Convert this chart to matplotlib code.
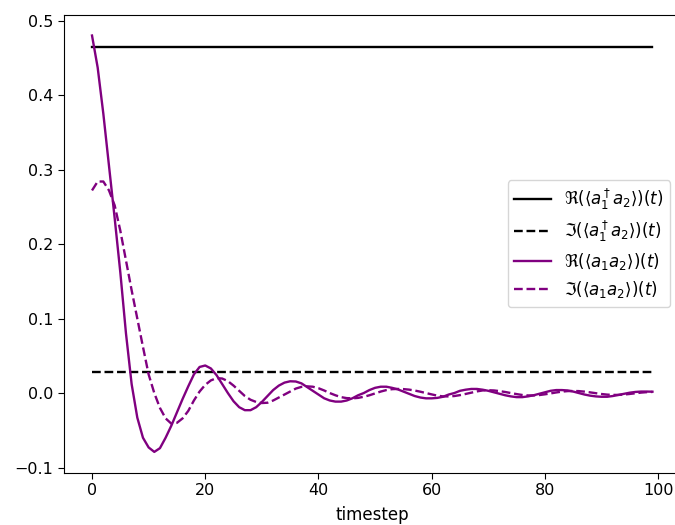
import matplotlib
matplotlib.use("Agg")
import matplotlib.pyplot as plt
import numpy as np

timestep = np.arange(100)

re_a1dag_a2 = [0.465] * 100
im_a1dag_a2 = [0.028] * 100

re_a1_a2 = [
    0.480, 0.437, 0.375, 0.305, 0.235, 0.162, 0.080, 0.012, -0.033, -0.060,
    -0.073, -0.079, -0.074, -0.060, -0.044, -0.026, -0.008, 0.009, 0.025, 0.035,
    0.037, 0.033, 0.024, 0.012, 0.000, -0.011, -0.019, -0.023, -0.023, -0.019,
    -0.012, -0.004, 0.004, 0.010, 0.014, 0.0158, 0.0155, 0.013, 0.008, 0.003,
    -0.002, -0.007, -0.010, -0.0115, -0.0115, -0.010, -0.007, -0.003, 0.000, 0.004,
    0.007, 0.0085, 0.0085, 0.007, 0.005, 0.002, -0.001, -0.004, -0.006, -0.0071,
    -0.0071, -0.0065, -0.005, -0.002, 0.000, 0.003, 0.0045, 0.0055, 0.0055, 0.0045,
    0.003, 0.001, -0.001, -0.003, -0.0045, -0.0055, -0.0055, -0.0045, -0.003, -0.001,
    0.001, 0.003, 0.004, 0.004, 0.0035, 0.002, 0.000, -0.002, -0.0035, -0.0045,
    -0.005, -0.005, -0.004, -0.0025, -0.001, 0.0005, 0.0015, 0.002, 0.002, 0.0018,
]

im_a1_a2 = [
    0.272, 0.284, 0.284, 0.272, 0.252, 0.218, 0.178, 0.138, 0.100, 0.062,
    0.025, 0.000, -0.020, -0.034, -0.041, -0.040, -0.034, -0.024, -0.010, 0.002,
    0.011, 0.017, 0.020, 0.0195, 0.016, 0.010, 0.003, -0.004, -0.009, -0.012,
    -0.0134, -0.013, -0.010, -0.006, -0.002, 0.002, 0.006, 0.0083, 0.009, 0.0085,
    0.0065, 0.0035, 0.000, -0.003, -0.0055, -0.0068, -0.0071, -0.0065, -0.005, -0.003,
    -0.0005, 0.002, 0.004, 0.0052, 0.0055, 0.0053, 0.0046, 0.0034, 0.0018, 0.000,
    -0.0018, -0.0035, -0.0045, -0.0045, -0.004, -0.0028, -0.0012, 0.0005, 0.0022, 0.0035,
    0.0038, 0.0035, 0.0026, 0.0014, 0.000, -0.0014, -0.0026, -0.0032, -0.0032, -0.0027,
    -0.0017, -0.0005, 0.0008, 0.0019, 0.0026, 0.0028, 0.0026, 0.0019, 0.0009, -0.0002,
    -0.0013, -0.0021, -0.0025, -0.0025, -0.002, -0.0012, -0.0003, 0.0006, 0.0012, 0.0015,
]

labels = [
    r'$\Re(\langle a_1^\dagger a_2\rangle)(t)$',
    r'$\Im(\langle a_1^\dagger a_2\rangle)(t)$',
    r'$\Re(\langle a_1 a_2\rangle)(t)$',
    r'$\Im(\langle a_1 a_2\rangle)(t)$',
]

plt.rcParams['font.size'] = 11.5
plt.rcParams['xtick.major.size'] = 4
plt.rcParams['ytick.major.size'] = 4

fig = plt.figure(figsize=(6.75, 5.25), dpi=100)
ax = fig.add_axes([0.0948, 0.0996, 0.9133, 0.8724])

lw = 1.7
ax.plot(timestep, re_a1dag_a2, color='black', ls='-', lw=lw, label=labels[0])
ax.plot(timestep, im_a1dag_a2, color='black', ls='--', lw=lw, label=labels[1])
ax.plot(timestep, re_a1_a2, color='purple', ls='-', lw=lw, label=labels[2])
ax.plot(timestep, im_a1_a2, color='purple', ls='--', lw=lw, label=labels[3])

ax.set_xlabel('timestep', fontsize=12, labelpad=5.5)
ax.set_yticks([-0.1, 0.0, 0.1, 0.2, 0.3, 0.4, 0.5])
ax.legend(loc='center right', fontsize=12, handlelength=2.2,
          labelspacing=0.42, borderaxespad=0.6)

fig.savefig('out.png', dpi=100)
